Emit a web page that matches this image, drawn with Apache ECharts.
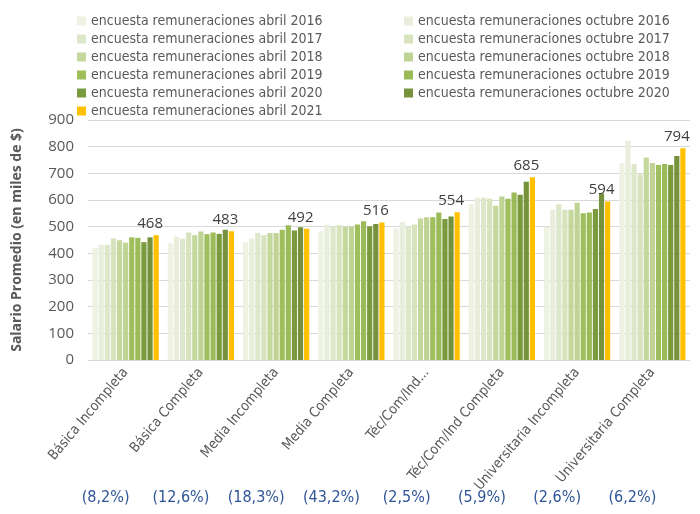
<!DOCTYPE html>
<html>
<head>
<meta charset="utf-8">
<script src="https://cdn.jsdelivr.net/npm/echarts@6/dist/echarts.min.js"></script>
<style>
  html, body { margin: 0; padding: 0; background: #fff; }
  #chart { width: 700px; height: 514px; }
</style>
</head>
<body>
<div id="chart"></div>
<script>
  // niveles educacionales
  var categories = ['Básica Incompleta', 'Básica Completa', 'Media Incompleta', 'Media Completa',
    'Téc/Com/Ind...', 'Téc/Com/Ind Completa', 'Universitaria Incompleta', 'Universitaria Completa'];
  var shares = ['(8,2%)', '(12,6%)', '(18,3%)', '(43,2%)', '(2,5%)', '(5,9%)', '(2,6%)', '(6,2%)'];

  var seriesNames = [
    'encuesta remuneraciones abril 2016', 'encuesta remuneraciones octubre 2016',
    'encuesta remuneraciones abril 2017', 'encuesta remuneraciones octubre 2017',
    'encuesta remuneraciones abril 2018', 'encuesta remuneraciones octubre 2018',
    'encuesta remuneraciones abril 2019', 'encuesta remuneraciones octubre 2019',
    'encuesta remuneraciones abril 2020', 'encuesta remuneraciones octubre 2020',
    'encuesta remuneraciones abril 2021'
  ];
  var colors = ['#eef2e3', '#e8eedb', '#dde7c9', '#d6e3bc', '#c4d79c', '#bfd494',
    '#9fbe5c', '#9bbb59', '#7a9a3e', '#76923c', '#ffc000'];

  // salario promedio (miles de $), un arreglo por encuesta
  var abr2016 = [420, 437, 442, 483, 494, 584, 499, 738];
  var oct2016 = [432, 463, 455, 507, 517, 608, 563, 822];
  var abr2017 = [432, 455, 476, 502, 500, 608, 584, 735];
  var oct2017 = [456, 478, 468, 505, 508, 605, 563, 696];
  var abr2018 = [449, 468, 476, 500, 531, 578, 563, 759];
  var oct2018 = [440, 482, 476, 500, 535, 613, 590, 739];
  var abr2019 = [460, 472, 488, 508, 535, 605, 550, 731];
  var oct2019 = [458, 478, 505, 520, 553, 628, 553, 735];
  var abr2020 = [442, 473, 486, 502, 529, 620, 566, 731];
  var oct2020 = [460, 488, 498, 510, 538, 668, 624, 765];
  var abr2021 = [468, 483, 492, 516, 554, 685, 594, 794];
  var values = [abr2016, oct2016, abr2017, oct2017, abr2018, oct2018,
    abr2019, oct2019, abr2020, oct2020, abr2021];

  var yTicks = { min: 0, max: 900, interval: 100 };
  var font = '"Liberation Sans Narrow", "DejaVu Sans Condensed", "Open Sans"';

  var series = values.map(function (d, i) {
    var s = {
      name: seriesNames[i],
      type: 'bar',
      data: d,
      barGap: '18%',
      barCategoryGap: '12%',
      itemStyle: { color: colors[i] }
    };
    if (i === values.length - 1) {
      s.label = {
        show: true,
        position: 'top',
        distance: 4,
        offset: [-6, 0],
        color: '#404040',
        fontSize: 15,
        fontFamily: 'Open Sans'
      };
    }
    return s;
  });

  var legendText = { color: '#595959', fontSize: 14, fontFamily: font };

  var chart = echarts.init(document.getElementById('chart'));
  chart.setOption({
    animation: false,
    textStyle: { fontFamily: 'Open Sans' },
    legend: [
      {
        orient: 'vertical', left: 72, top: 9, itemWidth: 9, itemHeight: 9, itemGap: 4,
        icon: 'rect', textStyle: legendText,
        data: seriesNames.filter(function (n, i) { return i % 2 === 0; })
      },
      {
        orient: 'vertical', left: 399, top: 9, itemWidth: 9, itemHeight: 9, itemGap: 4,
        icon: 'rect', textStyle: legendText,
        data: seriesNames.filter(function (n, i) { return i % 2 === 1; })
      }
    ],
    grid: { left: 88, right: 10, top: 120, bottom: 154 },
    xAxis: [
      {
        type: 'category',
        data: categories,
        axisLine: { lineStyle: { color: '#d9d9d9' } },
        axisTick: { show: false },
        axisLabel: { rotate: 50, color: '#595959', fontSize: 14, fontFamily: font, margin: 10, interval: 0 }
      },
      {
        type: 'category',
        position: 'bottom',
        offset: 122,
        data: shares,
        axisLine: { show: false },
        axisTick: { show: false },
        axisLabel: { color: '#2f5597', fontSize: 16, fontFamily: font, margin: 8, interval: 0, padding: [0, 40, 0, 0] }
      }
    ],
    yAxis: {
      type: 'value',
      min: yTicks.min,
      max: yTicks.max,
      interval: yTicks.interval,
      name: 'Salario Promedio (en miles de $)',
      nameLocation: 'middle',
      nameGap: 64,
      nameTextStyle: { color: '#595959', fontSize: 14, fontWeight: 'bold' },
      axisLine: { show: false },
      axisTick: { show: false },
      axisLabel: { color: '#595959', fontSize: 15, margin: 14 },
      splitLine: { lineStyle: { color: '#d9d9d9' } }
    },
    series: series
  });
</script>
</body>
</html>
